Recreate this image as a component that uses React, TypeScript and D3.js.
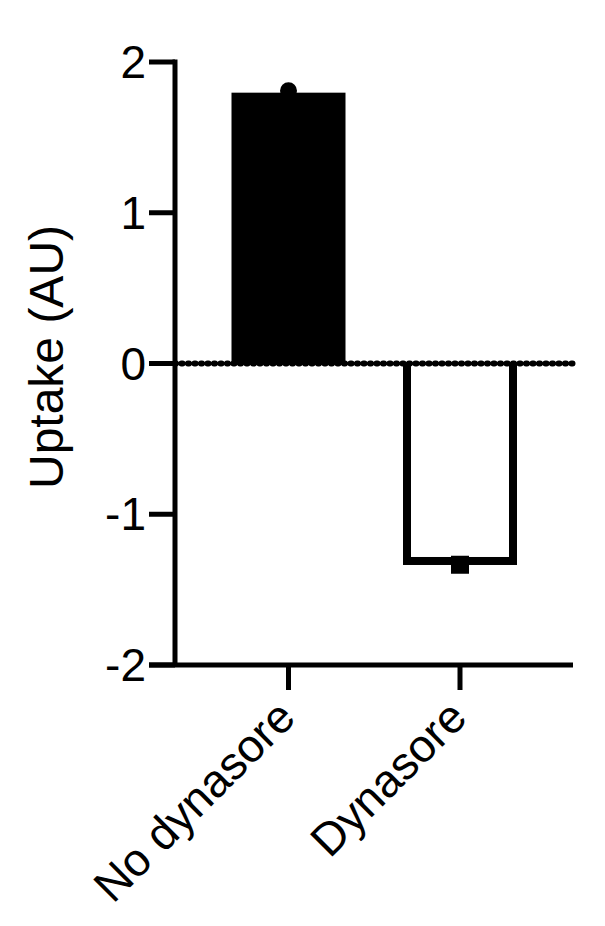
import React from "react";
import * as d3 from "d3";

const categories = ["No dynasore", "Dynasore"];
const means = [1.77, -1.31];
const points = [1.81, -1.335];
const yTicks = [-2, -1, 0, 1, 2];
const yTitle = "Uptake (AU)";

const W = 605;
const H = 926;

export default function App() {
  const y = d3.scaleLinear().domain([-2, 2]).range([665, 62]);
  const x = d3.scalePoint<string>().domain(categories).range([288.5, 460]);
  const xc = (c: string) => x(c) as number;
  const font = "'Liberation Sans', Arial, sans-serif";
  const barW = 106;
  const sw = 8;
  const axisLeft = 175;
  const axisRight = 573;

  return (
    <svg width={W} height={H} style={{ position: "absolute", left: 0, top: 0, background: "#fff" }}>
      {/* bars */}
      {categories.map((c, i) => {
        const v = means[i];
        const y0 = y(0);
        const y1 = y(v);
        // outer edge at the far end, flush with zero line at the base
        const top = v >= 0 ? y1 - sw / 2 : y0;
        const bottom = v >= 0 ? y0 : y1 + sw / 2;
        return (
          <g key={c}>
            <rect
              x={xc(c) - barW / 2 - sw / 2}
              y={top}
              width={barW + sw}
              height={bottom - top}
              fill="#000"
            />
            {i === 1 && (
              <rect
                x={xc(c) - barW / 2 + sw / 2}
                y={top}
                width={barW - sw}
                height={bottom - top - sw}
                fill="#fff"
              />
            )}
          </g>
        );
      })}
      {/* points */}
      <circle cx={xc(categories[0])} cy={y(points[0])} r={8.5} fill="#000" />
      <rect x={xc(categories[1]) - 9} y={y(points[1]) - 9} width={18} height={18} fill="#000" />
      {/* zero line dotted */}
      <line
        x1={axisLeft}
        x2={axisRight}
        y1={y(0)}
        y2={y(0)}
        stroke="#000"
        strokeWidth={6}
        strokeDasharray="1 5.5"
        strokeLinecap="round"
      />
      {/* y axis */}
      <line x1={axisLeft} x2={axisLeft} y1={y(2) - 2.5} y2={y(-2)} stroke="#000" strokeWidth={5} />
      {yTicks.map((t) => (
        <g key={t}>
          <line x1={149} x2={axisLeft} y1={y(t)} y2={y(t)} stroke="#000" strokeWidth={5} />
          <text
            x={146}
            y={y(t)}
            dy="0.35em"
            textAnchor="end"
            fontFamily={font}
            fontSize={46}
            fill="#000"
          >
            {t}
          </text>
        </g>
      ))}
      {/* x axis */}
      <line x1={149} x2={axisRight} y1={y(-2)} y2={y(-2)} stroke="#000" strokeWidth={5} />
      {categories.map((c) => (
        <g key={c}>
          <line x1={xc(c)} x2={xc(c)} y1={y(-2)} y2={690} stroke="#000" strokeWidth={5} />
          <text
            transform={`translate(${xc(c) + 9},${720}) rotate(-45)`}
            textAnchor="end"
            fontFamily={font}
            fontSize={46}
            fill="#000"
          >
            {c}
          </text>
        </g>
      ))}
      {/* y title */}
      <text
        transform={`translate(63,357) rotate(-90)`}
        textAnchor="middle"
        fontFamily={font}
        fontSize={48}
        fill="#000"
      >
        {yTitle}
      </text>
    </svg>
  );
}
